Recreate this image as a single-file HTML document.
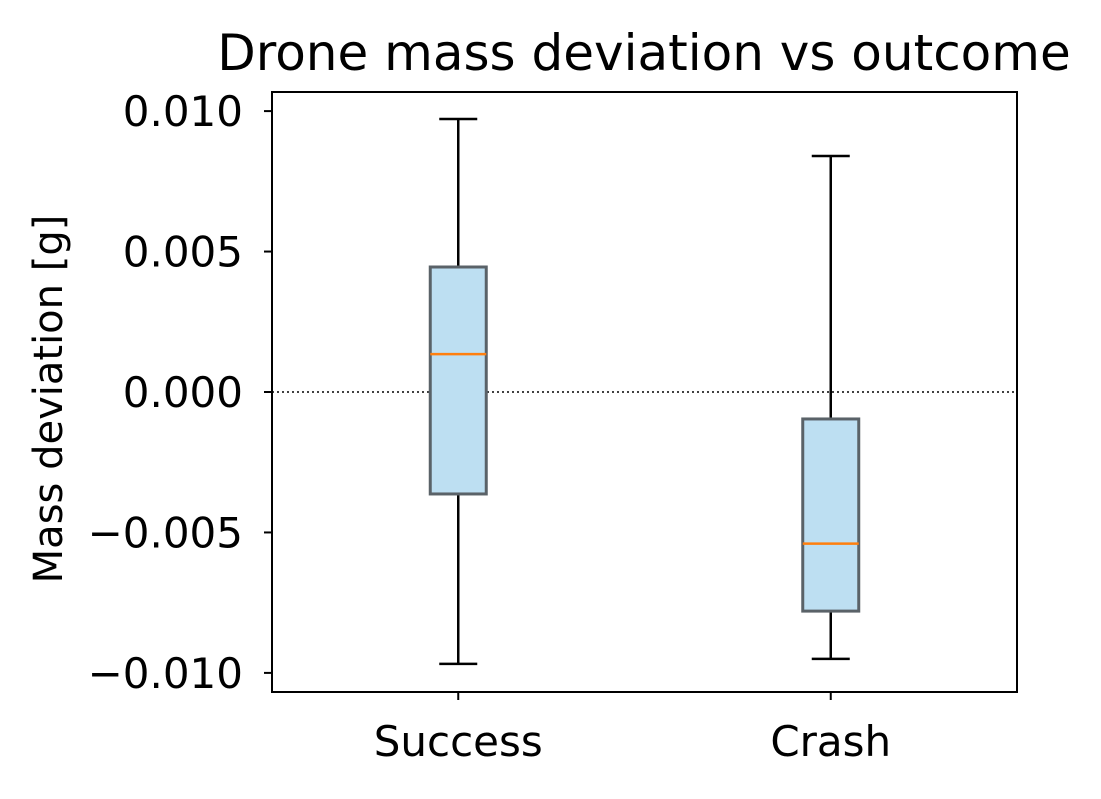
<!DOCTYPE html>
<html><head><meta charset="utf-8"><style>
html,body{margin:0;padding:0;background:#fff;}
svg text{font-family:"DejaVu Sans","Liberation Sans",sans-serif;fill:#000;}
</style></head><body>
<svg id="chart" width="1101" height="794" viewBox="0 0 1101 794">
<text x="644" y="70" font-size="50" text-anchor="middle">Drone mass deviation vs outcome</text>
<text transform="translate(62,399) rotate(-90)" font-size="40" text-anchor="middle">Mass deviation [g]</text>
<g id="plot"></g>
<rect x="272" y="92" width="745" height="600" fill="none" stroke="#000" stroke-width="2"/>
</svg>
<script>
const categories = ["Success", "Crash"];
const whiskerLow = [-0.00968, -0.0095];
const q1 = [-0.00363, -0.0078];
const median = [0.00135, -0.0054];
const q3 = [0.00445, -0.00096];
const whiskerHigh = [0.00972, 0.0084];
const yTicks = [0.010, 0.005, 0.000, -0.005, -0.010];
const yTickLabels = ["0.010", "0.005", "0.000", "\u22120.005", "\u22120.010"];

const L=272,R=1017,T=92,B=692;
const yMin=-0.01068,yMax=0.01068,xMin=0.5,xMax=2.5;
const y=v=>B-(v-yMin)/(yMax-yMin)*(B-T);
const x=v=>L+(v-xMin)/(xMax-xMin)*(R-L);
const NS="http://www.w3.org/2000/svg";
const g=document.getElementById("plot");
function mk(tag,attrs,parent){const e=document.createElementNS(NS,tag);for(const k in attrs)e.setAttribute(k,attrs[k]);(parent||g).appendChild(e);return e;}

const zl=mk("line",{x1:L,x2:R,y1:y(0),y2:y(0),stroke:"#000","stroke-width":1.6,"stroke-dasharray":"2,3"});



yTicks.forEach((t,i)=>{
  const tk=mk("line",{x1:L-8,x2:L,y1:y(t),y2:y(t),stroke:"#000","stroke-width":2});
  
  
  const tx=mk("text",{x:L-29,y:y(t)+15,"font-size":42,"text-anchor":"end"});
  tx.textContent=yTickLabels[i];
  
  
});

categories.forEach((c,i)=>{
  const cx=x(i+1),hw=28,cw=19;
  const tk=mk("line",{x1:cx,x2:cx,y1:B,y2:B+8,stroke:"#000","stroke-width":2});
  
  
  const tx=mk("text",{x:cx,y:B+64,"font-size":42,"text-anchor":"middle"});
  tx.textContent=c;
  
  
  const w1=mk("line",{x1:cx,x2:cx,y1:y(whiskerHigh[i]),y2:y(q3[i]),stroke:"#000","stroke-width":2.5});
  
  
  const w2=mk("line",{x1:cx,x2:cx,y1:y(q1[i]),y2:y(whiskerLow[i]),stroke:"#000","stroke-width":2.5});
  
  
  const c1=mk("line",{x1:cx-cw,x2:cx+cw,y1:y(whiskerHigh[i]),y2:y(whiskerHigh[i]),stroke:"#000","stroke-width":2.5});
  
  
  const c2=mk("line",{x1:cx-cw,x2:cx+cw,y1:y(whiskerLow[i]),y2:y(whiskerLow[i]),stroke:"#000","stroke-width":2.5});
  
  
  const bx=mk("rect",{x:cx-hw,y:y(q3[i]),width:2*hw,height:y(q1[i])-y(q3[i]),fill:"#bddff2",stroke:"#5a6268","stroke-width":3});
  
  
  const md=mk("line",{x1:cx-hw,x2:cx+hw,y1:y(median[i]),y2:y(median[i]),stroke:"#ff7f0e","stroke-width":2.5});
  
  
});
</script>
</body></html>
